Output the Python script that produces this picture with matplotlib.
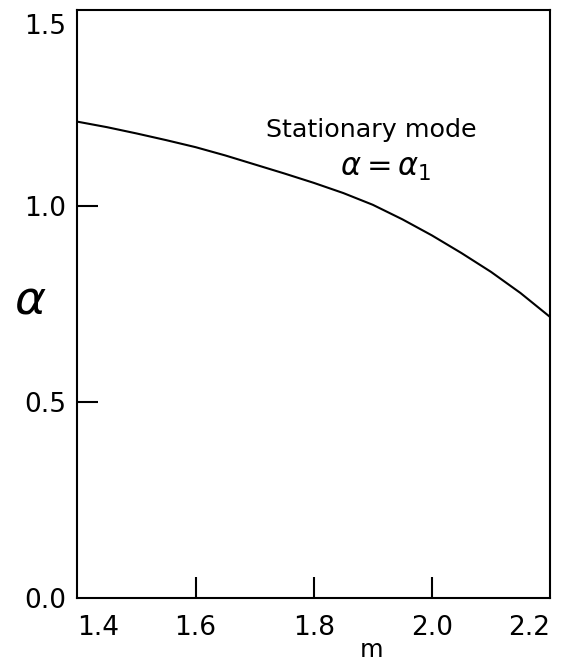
import matplotlib
matplotlib.use("Agg")
import matplotlib.pyplot as plt
import matplotlib.transforms as mtransforms

# values
m_vals = [1.40, 1.45, 1.50, 1.55, 1.60, 1.65, 1.70, 1.75, 1.80,
          1.85, 1.90, 1.95, 2.00, 2.05, 2.10, 2.15, 2.20]
alpha_vals = [1.215, 1.201, 1.185, 1.168, 1.150, 1.129, 1.106, 1.083, 1.059,
              1.033, 1.003, 0.966, 0.925, 0.880, 0.832, 0.778, 0.717]

x_ticks = [1.4, 1.6, 1.8, 2.0, 2.2]
x_tick_labels = ["1.4", "1.6", "1.8", "2.0", "2.2"]
y_ticks = [0.0, 0.5, 1.0, 1.5]
y_tick_labels = ["0.0", "0.5", "1.0", "1.5"]


def main():
    plt.rcParams['font.family'] = ['DejaVu Sans']
    fig = plt.figure(figsize=(5.68, 6.64), dpi=100)
    ax = fig.add_axes([0.1364, 0.0994, 0.8319, 0.8856])

    ax.plot(m_vals, alpha_vals, color='black', linewidth=1.5)

    ax.set_xlim(1.4, 2.2)
    ax.set_ylim(0.0, 1.5)
    ax.set_xticks(x_ticks)
    ax.set_xticklabels(x_tick_labels)
    ax.set_yticks(y_ticks)
    ax.set_yticklabels(y_tick_labels)
    ax.tick_params(direction='in', length=15, width=1.5, labelsize=19)
    ax.tick_params(axis='x', pad=12)
    ax.tick_params(axis='y', pad=8)

    # edge labels sit inside the frame ends
    xlabels = ax.get_xticklabels()
    xlabels[0].set_ha('left')
    xlabels[-1].set_ha('right')
    ylabels = ax.get_yticklabels()
    shift = mtransforms.ScaledTranslation(0, -14 / 100, fig.dpi_scale_trans)
    ylabels[-1].set_transform(ylabels[-1].get_transform() + shift)

    # hide tick marks that sit on the frame
    for t in [ax.xaxis.get_major_ticks()[0], ax.xaxis.get_major_ticks()[-1],
              ax.yaxis.get_major_ticks()[0], ax.yaxis.get_major_ticks()[-1]]:
        t.tick1line.set_visible(False)

    for s in ax.spines.values():
        s.set_linewidth(1.5)

    ax.set_xlabel("m", fontsize=17.5, va='center')
    ax.xaxis.set_label_coords(0.623, -0.088)
    ax.set_ylabel(r"$\alpha$", fontsize=34, rotation=0, va='center', ha='center')
    ax.yaxis.set_label_coords(-0.1005, 0.505)

    ax.text(0.40, 0.796, "Stationary mode", transform=ax.transAxes,
            fontsize=18.3, ha='left', va='center')
    ax.text(0.555, 0.731, r"$\alpha = \alpha_1$", transform=ax.transAxes,
            fontsize=22, ha='left', va='center')

    fig.savefig("out.png", dpi=100)


if __name__ == "__main__":
    main()
